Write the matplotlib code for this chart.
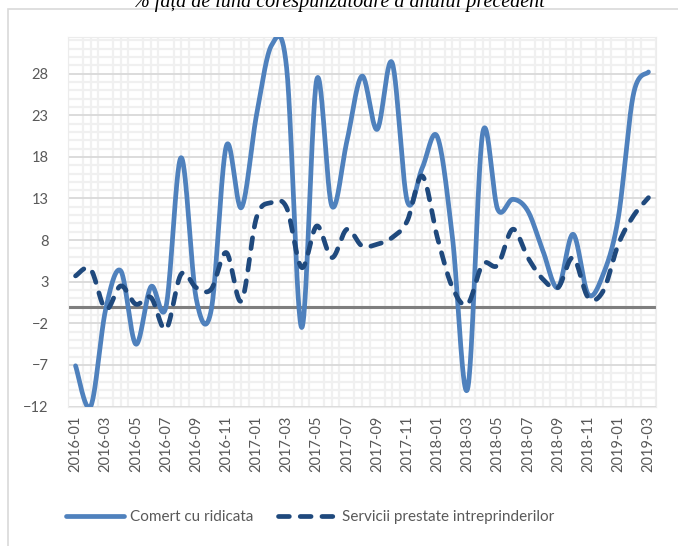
import matplotlib
matplotlib.use('Agg')
import matplotlib.pyplot as plt
from matplotlib.patches import Rectangle
import numpy as np

# luni 2016-01 .. 2019-03
months = ['%d-%02d' % (2016 + i // 12, i % 12 + 1) for i in range(39)]

# Comert cu ridicata
comert = [-7.1, -12.0, -0.3, 4.3, -4.5, 2.4, 0.0, 17.9, 1.0, -0.4,
          19.3, 11.9, 23.0, 31.4, 28.7, -2.5, 27.3, 12.1, 19.9, 27.7,
          21.3, 29.3, 12.7, 16.7, 20.4, 8.3, -9.9, 20.8, 11.7, 12.9,
          11.5, 6.7, 2.3, 8.7, 1.5, 3.9, 10.7, 25.5, 28.2]
# Servicii prestate intreprinderilor
servicii = [3.7, 4.5, -0.3, 2.5, 0.3, 1.1, -2.7, 3.9, 2.3, 2.1,
            6.5, 0.7, 10.7, 12.5, 11.9, 4.7, 9.7, 5.9, 9.3, 7.3,
            7.5, 8.3, 10.3, 15.7, 8.3, 2.3, 0.3, 5.1, 5.0, 9.3,
            5.9, 3.3, 2.3, 5.9, 1.1, 1.9, 7.5, 10.9, 13.1]

yticks = [-12, -7, -2, 3, 8, 13, 18, 23, 28]
title = '% față de luna corespunzătoare a anului precedent'


def smooth(y, n=30):
    # curba netezita ca in Excel (Bezier cu puncte de control la 1/6)
    x = np.arange(len(y), dtype=float)
    y = np.asarray(y, dtype=float)
    px = np.concatenate([[x[0]], x, [x[-1]]])
    py = np.concatenate([[y[0]], y, [y[-1]]])
    xs, ys = [], []
    t = np.linspace(0, 1, n)
    for i in range(len(y) - 1):
        p0 = np.array([px[i + 1], py[i + 1]])
        p3 = np.array([px[i + 2], py[i + 2]])
        c1 = p0 + (np.array([px[i + 2], py[i + 2]]) - np.array([px[i], py[i]])) / 6
        c2 = p3 - (np.array([px[i + 3], py[i + 3]]) - np.array([px[i + 1], py[i + 1]])) / 6
        b = ((1 - t) ** 3)[:, None] * p0 + (3 * (1 - t) ** 2 * t)[:, None] * c1 \
            + (3 * (1 - t) * t ** 2)[:, None] * c2 + (t ** 3)[:, None] * p3
        xs.extend(b[:, 0])
        ys.extend(b[:, 1])
    return np.array(xs), np.array(ys)


def main():
    plt.rcParams['font.family'] = ['Lato', 'DejaVu Sans']
    fig = plt.figure(figsize=(6.78, 5.46), dpi=100)

    # chenarul graficului
    fig.patches.append(Rectangle((8 / 678, -0.05), 1.0, 1 - 9 / 546 + 0.05,
                                 transform=fig.transFigure, fill=False,
                                 edgecolor='#d9d9d9', linewidth=1.2))
    fig.text(0.5, 1 - 7 / 546, title, ha='center', va='baseline',
             fontsize=14.5, style='italic', family='Liberation Serif')

    ax = fig.add_axes([68 / 678, 139 / 546, 588 / 678, 370 / 546])
    ax.set_xlim(-0.5, len(months) - 0.5)
    ax.set_ylim(-12.05, 32.4)

    # fundal cu grila fina
    ax.set_xticks(np.arange(-0.5, len(months), 0.5), minor=True)
    ax.set_yticks(np.arange(-12, 33, 1), minor=True)
    ax.grid(which='minor', color='#f0f0f0', linewidth=1.6)
    ax.set_yticks(yticks)
    ax.yaxis.grid(True, which='major', color='#d9d9d9', linewidth=1.3)
    ax.set_axisbelow(True)
    ax.axhline(0, color='#7f7f7f', linewidth=2.2, zorder=2)

    xs, ys = smooth(comert)
    ax.plot(xs, ys, color='#4f81bd', linewidth=3.4, solid_capstyle='round',
            label='Comert cu ridicata', zorder=3)
    xs, ys = smooth(servicii)
    ax.plot(xs, ys, color='#1f497d', linewidth=3.4, dashes=(2.3, 2.3),
            dash_capstyle='round', label='Servicii prestate intreprinderilor', zorder=4)

    ax.set_xticks(np.arange(0, len(months), 2))
    ax.set_xticklabels(months[::2], rotation=90)
    ax.tick_params(which='both', length=0, labelsize=10.5, labelcolor='#595959')
    ax.tick_params(axis='x', pad=6)
    ax.tick_params(axis='y', pad=14)
    for s in ax.spines.values():
        s.set_color('#ececec')

    fig.legend(loc='center', bbox_to_anchor=(0.457, 1 - 517 / 546), ncol=2,
               frameon=False, fontsize=11, labelcolor='#595959',
               handlelength=3.8, columnspacing=1.6, handletextpad=0.4)

    fig.savefig('out.png', dpi=100)


if __name__ == '__main__':
    main()
